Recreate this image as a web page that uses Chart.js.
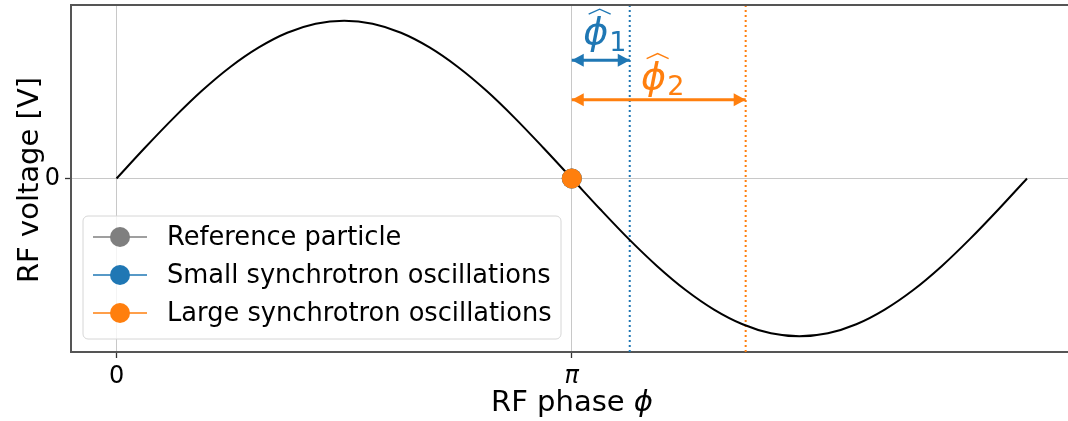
<!DOCTYPE html>
<html>
<head>
<meta charset="utf-8">
<script src="https://cdn.jsdelivr.net/npm/chart.js@4"></script>
<style>
  html, body { margin: 0; padding: 0; background: #ffffff; }
  canvas { display: block; }
</style>
</head>
<body>
<canvas id="rfChart" width="1068" height="421"></canvas>
<script>
// --- datos ---
const phase = [0, 0.196, 0.393, 0.589, 0.785, 0.982, 1.178, 1.374, 1.571, 1.767, 1.963, 2.160,
    2.356, 2.553, 2.749, 2.945, 3.142, 3.338, 3.534, 3.731, 3.927, 4.123, 4.320, 4.516,
    4.712, 4.909, 5.105, 5.301, 5.498, 5.694, 5.890, 6.087, 6.283];
const voltage = [0, 0.195, 0.383, 0.556, 0.707, 0.831, 0.924, 0.981, 1, 0.981, 0.924, 0.831,
    0.707, 0.556, 0.383, 0.195, 0, -0.195, -0.383, -0.556, -0.707, -0.831, -0.924, -0.981,
    -1, -0.981, -0.924, -0.831, -0.707, -0.556, -0.383, -0.195, 0];

const xTicks = [0, 3.1416];
const xTickLabels = ['0', 'π'];
const yTicks = [0];
const yTickLabels = ['0'];

const syncPhase = [3.1416, 0];          // partícula de referencia (π, 0)
const amplitudes = [0.4, 1.2];          // amplitud de fase de cada oscilación
const arrowLevels = [0.75, 0.5];        // altura de las flechas
const seriesLabels = ['Reference particle', 'Small synchrotron oscillations', 'Large synchrotron oscillations'];

const colors = { gray: '#7f7f7f', blue: '#1f77b4', orange: '#ff7f0e' };
const FONT = "'DejaVu Sans', sans-serif";

const curve = phase.map((p, i) => ({ x: p, y: voltage[i] }));
const vline = (x) => [{ x: x, y: -1.1 }, { x: x, y: 1.1 }];
const hline = (x0, x1, y) => [{ x: x0, y: y }, { x: x1, y: y }];

const datasets = [
    { data: [{ x: syncPhase[0], y: syncPhase[1] }], label: seriesLabels[2], color: colors.orange, order: 0 },
    { data: [{ x: syncPhase[0], y: syncPhase[1] }], label: seriesLabels[1], color: colors.blue, order: 1 },
    { data: [{ x: syncPhase[0], y: syncPhase[1] }], label: seriesLabels[0], color: colors.gray, order: 2 }
].map(d => ({
    label: d.label, data: d.data, order: d.order, inLegend: true,
    showLine: false, pointRadius: 10, pointHoverRadius: 10,
    backgroundColor: d.color, borderColor: d.color, pointBorderWidth: 0
}));

// curva de voltaje
datasets.push({
    label: 'RF', data: curve, order: 5, borderColor: '#000000', borderWidth: 2,
    pointRadius: 0, cubicInterpolationMode: 'monotone', showLine: true
});

// líneas punteadas y flechas
[colors.blue, colors.orange].forEach((c, i) => {
    const xEnd = syncPhase[0] + amplitudes[i];
    datasets.push({
        label: 'v' + i, data: vline(xEnd), order: 6, borderColor: c, borderWidth: 2,
        borderDash: [2, 3], pointRadius: 0, showLine: true
    });
    datasets.push({
        label: 'arrow' + i, data: hline(syncPhase[0], xEnd, arrowLevels[i]), order: 4,
        borderColor: c, borderWidth: 3, pointRadius: 0, showLine: true, isArrow: true,
        arrowIndex: i
    });
});

const noPad = (scale) => {
    scale.paddingTop = 0; scale.paddingBottom = 0;
    scale.paddingLeft = 0; scale.paddingRight = 0;
};

const decorations = {
    id: 'decorations',
    afterDatasetsDraw(chart) {
        const { ctx, chartArea, scales } = chart;
        ctx.save();
        // espina superior
        ctx.strokeStyle = '#555555';
        ctx.lineWidth = 2;
        ctx.beginPath();
        ctx.moveTo(chartArea.left, chartArea.top);
        ctx.lineTo(chartArea.right, chartArea.top);
        ctx.stroke();

        // puntas de flecha y etiquetas phi
        chart.data.datasets.forEach(ds => {
            if (!ds.isArrow) return;
            const x0 = scales.x.getPixelForValue(ds.data[0].x);
            const x1 = scales.x.getPixelForValue(ds.data[1].x);
            const y = scales.y.getPixelForValue(ds.data[0].y);
            const hl = 12, hw = 6.5;
            ctx.fillStyle = ds.borderColor;
            ctx.beginPath();
            ctx.moveTo(x0, y); ctx.lineTo(x0 + hl, y - hw); ctx.lineTo(x0 + hl, y + hw); ctx.closePath();
            ctx.fill();
            ctx.beginPath();
            ctx.moveTo(x1, y); ctx.lineTo(x1 - hl, y - hw); ctx.lineTo(x1 - hl, y + hw); ctx.closePath();
            ctx.fill();

            // etiqueta \hat{phi}_n
            const idx = ds.arrowIndex;
            const mainOff = idx === 0 ? 16 : 11;
            const subOff = idx === 0 ? 9 : 5;
            ctx.font = 'italic 38px ' + FONT;
            const wPhi = ctx.measureText('ϕ').width;
            ctx.font = '27px ' + FONT;
            const sub = String(idx + 1);
            const wSub = ctx.measureText(sub).width;
            const total = wPhi + 1 + wSub;
            const mid = (x0 + x1) / 2 + 4;
            const start = mid - total / 2;
            ctx.fillStyle = ds.borderColor;
            ctx.textBaseline = 'alphabetic';
            ctx.textAlign = 'left';
            ctx.font = 'italic 38px ' + FONT;
            ctx.fillText('ϕ', start, y - mainOff);
            ctx.font = '27px ' + FONT;
            ctx.fillText(sub, start + wPhi + 1, y - subOff);
            // sombrero
            const hx = start + wPhi / 2 + 4;
            const hy = y - mainOff - 35;
            ctx.strokeStyle = ds.borderColor;
            ctx.lineWidth = 1.4;
            ctx.beginPath();
            ctx.moveTo(hx - 11, hy + 5);
            ctx.lineTo(hx, hy);
            ctx.lineTo(hx + 11, hy + 5);
            ctx.stroke();
        });
        ctx.restore();
    },
    afterDraw(chart) {
        const { ctx, chartArea } = chart;
        ctx.save();
        // títulos de ejes
        ctx.fillStyle = '#000000';
        ctx.textBaseline = 'middle';
        ctx.textAlign = 'left';
        ctx.font = '29px ' + FONT;
        const t1 = 'RF phase ';
        const w1 = ctx.measureText(t1).width;
        ctx.font = 'italic 29px ' + FONT;
        const w2 = ctx.measureText('ϕ').width;
        const cx = 572;
        let sx = cx - (w1 + w2) / 2;
        ctx.font = '29px ' + FONT;
        ctx.fillText(t1, sx, 403);
        ctx.font = 'italic 29px ' + FONT;
        ctx.fillText('ϕ', sx + w1, 403);

        ctx.save();
        ctx.translate(30, 180);
        ctx.rotate(-Math.PI / 2);
        ctx.textAlign = 'center';
        ctx.font = '29px ' + FONT;
        ctx.fillText('RF voltage [V]', 0, 0);
        ctx.restore();

        // leyenda
        const items = chart.data.datasets.filter(d => d.inLegend).slice().reverse();
        const bx = 83, bw = 478, bh = 123;
        const by = chartArea.bottom - 13 - bh;
        ctx.beginPath();
        ctx.roundRect(bx, by, bw, bh, 5);
        ctx.fillStyle = 'rgba(255,255,255,0.8)';
        ctx.fill();
        ctx.strokeStyle = '#d6d6d6';
        ctx.lineWidth = 1;
        ctx.stroke();
        items.forEach((d, i) => {
            const ry = by + 21 + i * 38;
            ctx.strokeStyle = d.borderColor;
            ctx.lineWidth = 1.5;
            ctx.beginPath();
            ctx.moveTo(bx + 10, ry); ctx.lineTo(bx + 64, ry);
            ctx.stroke();
            ctx.fillStyle = d.backgroundColor;
            ctx.beginPath();
            ctx.arc(bx + 37, ry, 10, 0, Math.PI * 2);
            ctx.fill();
            ctx.fillStyle = '#000000';
            ctx.font = '25.7px ' + FONT;
            ctx.textAlign = 'left';
            ctx.textBaseline = 'middle';
            ctx.fillText(d.label, bx + 84, ry + 1);
        });
        ctx.restore();
    }
};

new Chart(document.getElementById('rfChart'), {
    type: 'line',
    data: { datasets: datasets },
    options: {
        responsive: false,
        animation: false,
        devicePixelRatio: 1,
        layout: { autoPadding: false, padding: { left: 31, top: 5, right: 0, bottom: 0 } },
        plugins: { legend: { display: false }, tooltip: { enabled: false } },
        scales: {
            x: {
                type: 'linear',
                // el borde derecho de la figura original recorta el eje (≈2.09π)
                min: -0.1 * Math.PI,
                max: 2.09 * Math.PI,
                afterFit: (scale) => { scale.height = 69; noPad(scale); },
                afterBuildTicks: (scale) => { scale.ticks = xTicks.map(v => ({ value: v })); },
                ticks: {
                    autoSkip: false,
                    maxRotation: 0,
                    padding: 4,
                    color: '#000000',
                    font: (c) => ({ family: FONT, size: 24, style: c.tick && c.tick.value > 0 ? 'italic' : 'normal' }),
                    callback: (v) => xTickLabels[xTicks.indexOf(v)]
                },
                grid: { color: '#c8c8c8', lineWidth: 1, tickLength: 6, tickColor: '#333333', tickWidth: 1.3 },
                border: { display: true, color: '#555555', width: 2 }
            },
            y: {
                type: 'linear',
                min: -1.1,
                max: 1.1,
                afterFit: (scale) => { scale.width = 40; noPad(scale); },
                afterBuildTicks: (scale) => { scale.ticks = yTicks.map(v => ({ value: v })); },
                ticks: {
                    padding: 5,
                    color: '#000000',
                    font: { family: FONT, size: 24 },
                    callback: (v) => yTickLabels[yTicks.indexOf(v)]
                },
                grid: { color: '#c8c8c8', lineWidth: 1, tickLength: 6, tickColor: '#333333', tickWidth: 1.3 },
                border: { display: true, color: '#555555', width: 2 }
            }
        }
    },
    plugins: [decorations]
});
</script>
</body>
</html>
